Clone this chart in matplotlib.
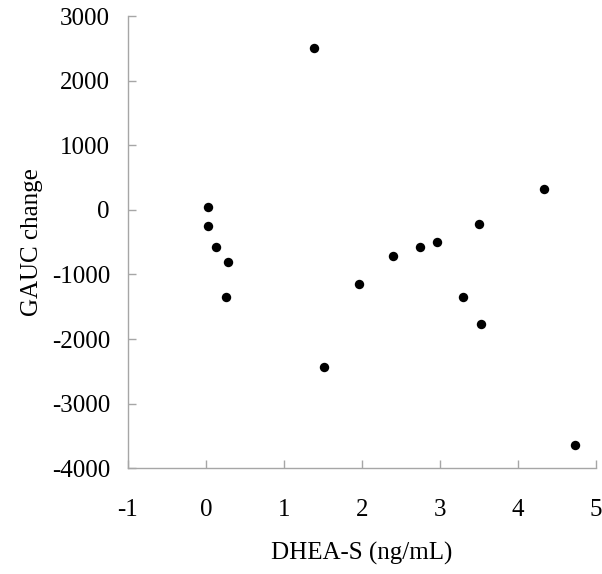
import matplotlib
matplotlib.use("Agg")
import matplotlib.pyplot as plt

dhea_s = [0.03, 0.03, 0.13, 0.28, 0.26, 1.38, 1.52, 1.97, 2.40, 2.75, 2.97,
          3.30, 3.50, 3.53, 4.34, 4.73]
gauc_change = [50, -246, -571, -803, -1345, 2505, -2428, -1143, -710, -571, -493,
               -1345, -219, -1762, 322, -3640]

x_ticks = [-1, 0, 1, 2, 3, 4, 5]
y_ticks = [-4000, -3000, -2000, -1000, 0, 1000, 2000, 3000]

plt.rcParams['font.family'] = ['Liberation Serif', 'DejaVu Serif']
plt.rcParams['axes.unicode_minus'] = False

fig = plt.figure(figsize=(6.02, 5.74), dpi=100)
ax = fig.add_axes([0.2126, 0.1841, 0.9895 - 0.2126, 0.9721 - 0.1841])

ax.scatter(dhea_s, gauc_change, s=46, color='black', zorder=3, linewidths=0,
           clip_on=False)

ax.set_xlim(-1, 5)
ax.set_ylim(-4000, 3000)
ax.set_xticks(x_ticks)
ax.set_yticks(y_ticks)

for side in ['top', 'right']:
    ax.spines[side].set_visible(False)
for side in ['left', 'bottom']:
    ax.spines[side].set_color('#a6a6a6')
    ax.spines[side].set_linewidth(1.0)

ax.tick_params(direction='in', length=6, width=1.0, color='#a6a6a6',
               labelsize=18)
ax.tick_params(axis='x', pad=22)
ax.tick_params(axis='y', pad=13)

ax.set_xlabel('DHEA-S (ng/mL)', fontsize=18, labelpad=15)
ax.set_ylabel('GAUC change', fontsize=18, labelpad=6)

fig.savefig('out.png', dpi=100)
